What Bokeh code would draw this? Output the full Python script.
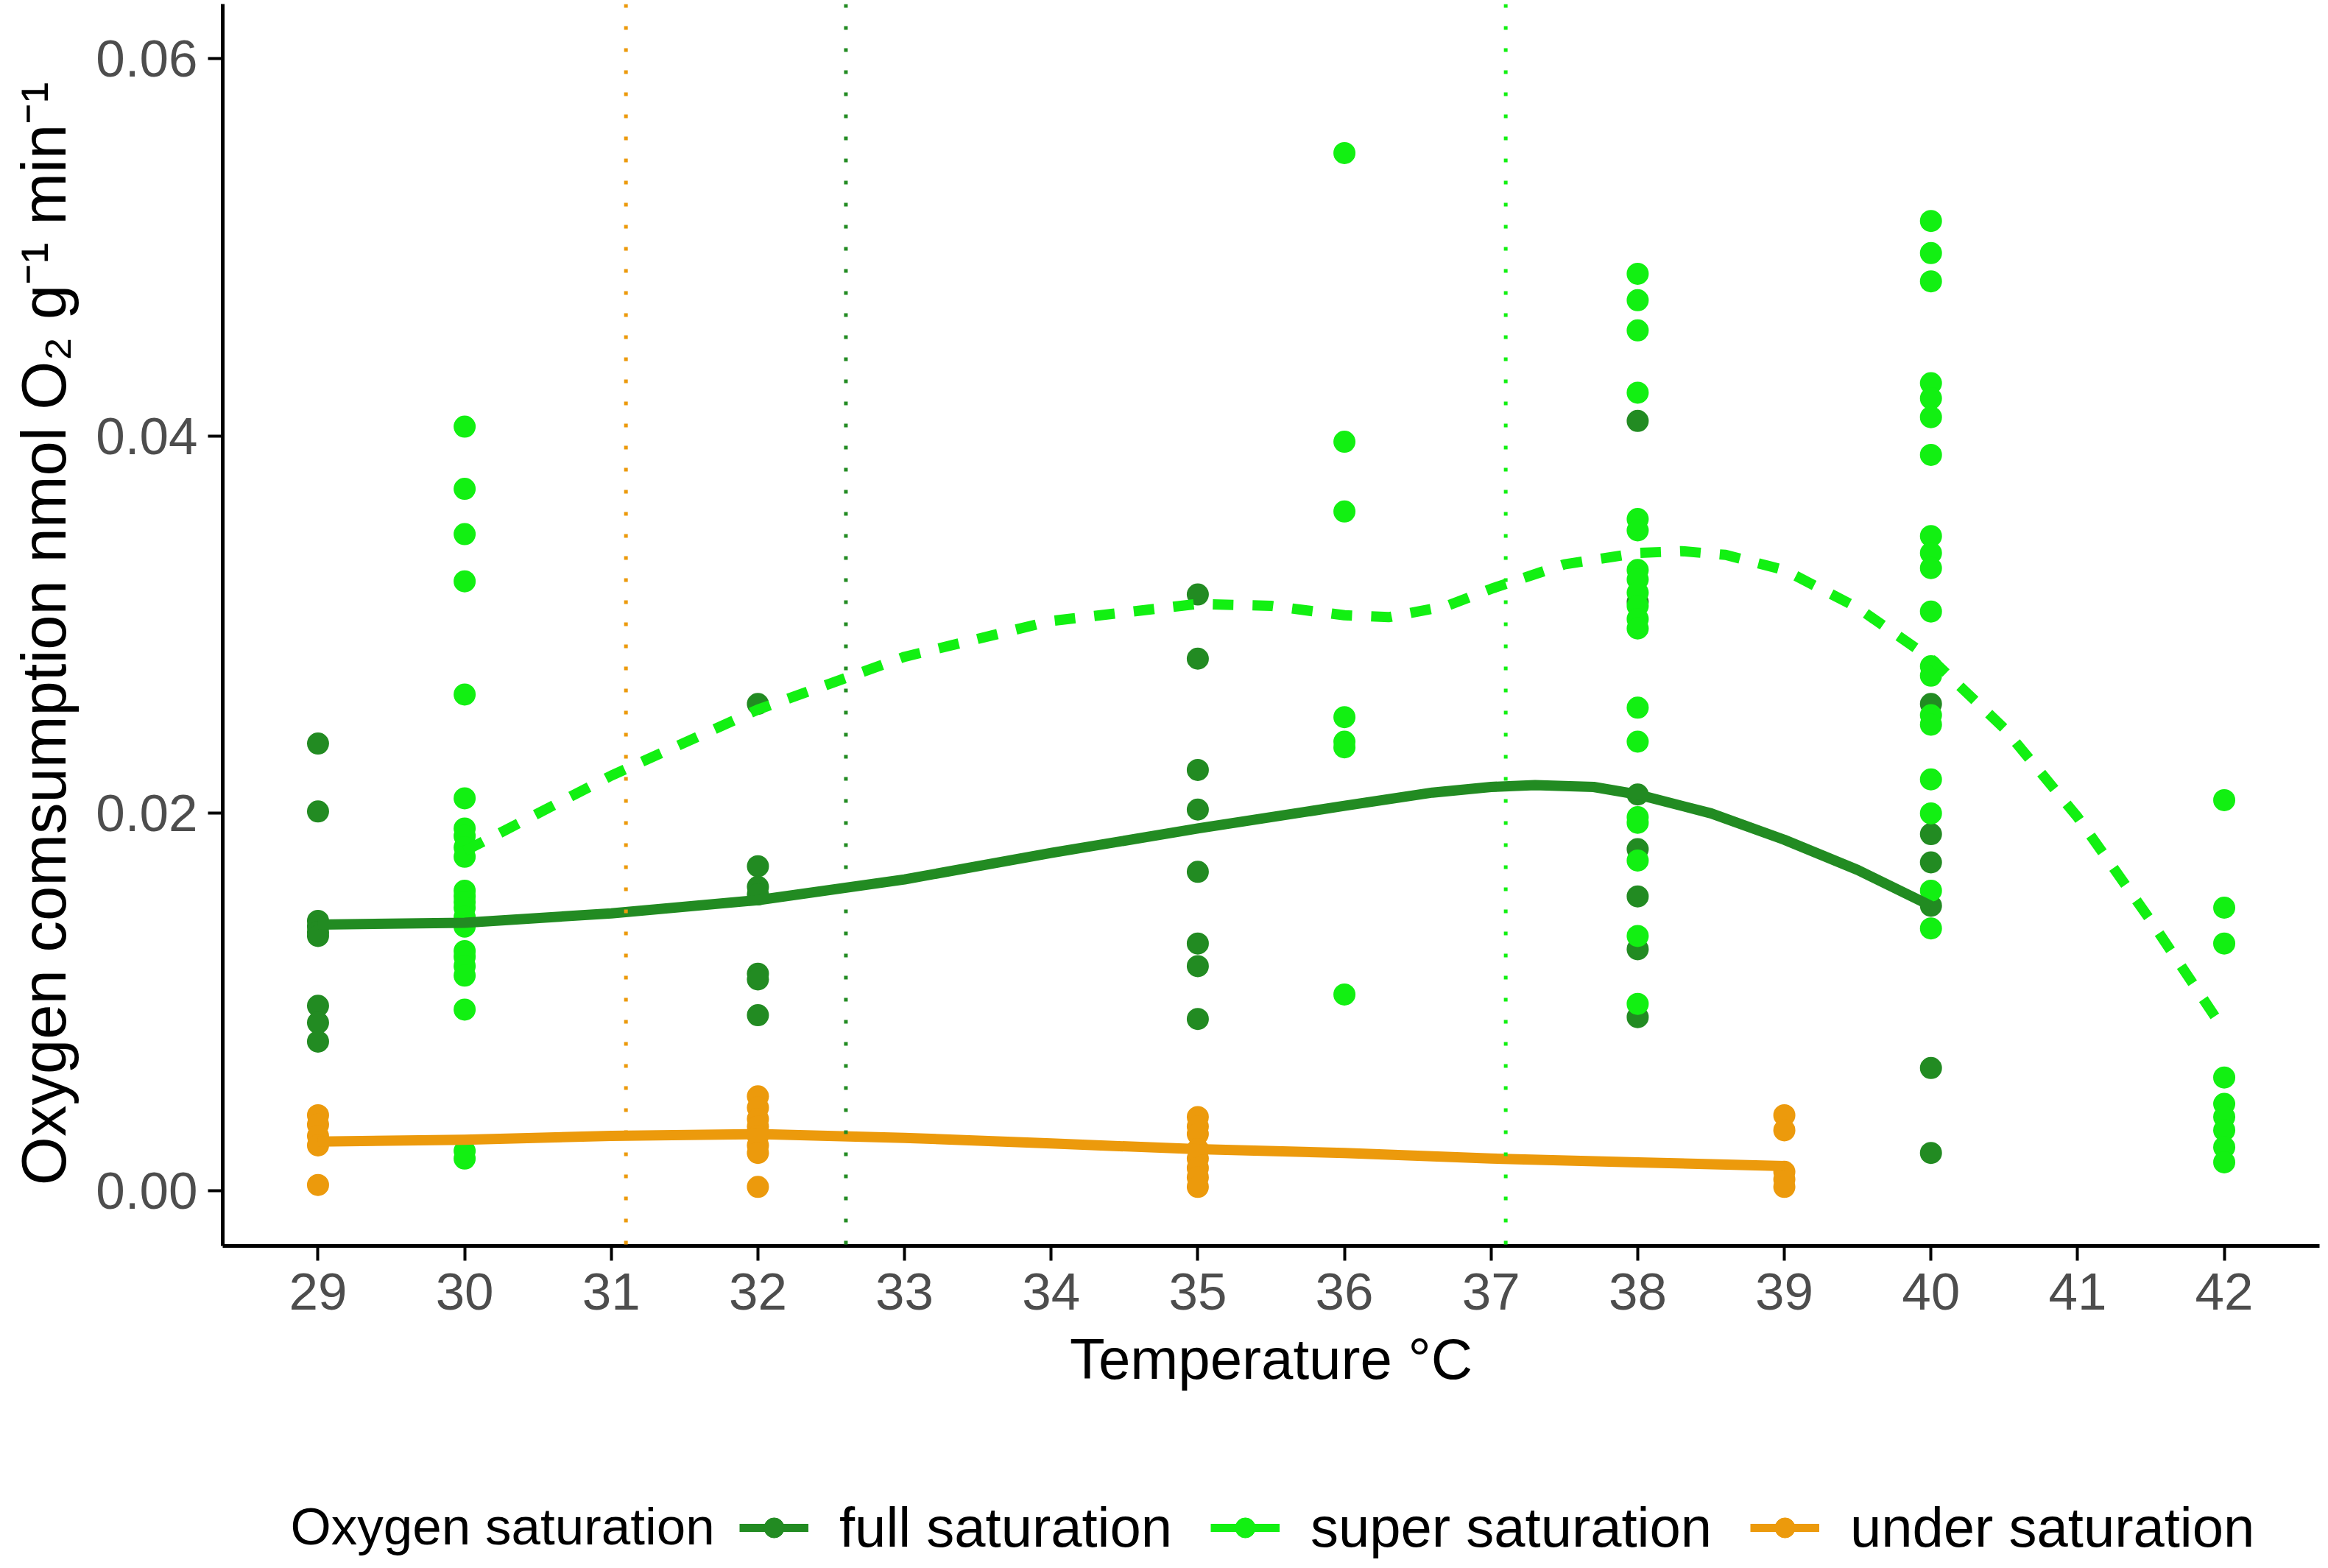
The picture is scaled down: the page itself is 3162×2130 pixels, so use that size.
from bokeh.plotting import figure
from bokeh.layouts import column
from bokeh.models import Span, Legend, LegendItem, Label, FixedTicker, Range1d, NumeralTickFormatter
from bokeh.embed import file_html
from bokeh.resources import INLINE

# ---------------- data ----------------
x_ticks = [29, 30, 31, 32, 33, 34, 35, 36, 37, 38, 39, 40, 41, 42]
y_ticks = [0.0, 0.02, 0.04, 0.06]

legend_title = "Oxygen saturation"
group_names = ["full saturation", "super saturation", "under saturation"]

# full saturation measurements
full_temps = [29, 32, 35, 38, 40]
full_values = [
    [0.0237, 0.0201, 0.0143, 0.0140, 0.0137, 0.0135, 0.0098, 0.0089, 0.0079],
    [0.0258, 0.0172, 0.0161, 0.0157, 0.0115, 0.0112, 0.0093],
    [0.0316, 0.0282, 0.0223, 0.0202, 0.0169, 0.0131, 0.0119, 0.0091],
    [0.0408, 0.0312, 0.0210, 0.0181, 0.0156, 0.0128, 0.0092],
    [0.0258, 0.0189, 0.0174, 0.0151, 0.0065, 0.0020],
]

# super saturation measurements
super_temps = [30, 36, 38, 40, 42]
super_values = [
    [0.0405, 0.0372, 0.0348, 0.0323, 0.0263, 0.0208, 0.0192, 0.0188, 0.0182, 0.0177,
     0.0159, 0.0156, 0.0153, 0.0150, 0.0145, 0.0140, 0.0127, 0.0124, 0.0119, 0.0114,
     0.0096, 0.0021, 0.0017],
    [0.0550, 0.0397, 0.0360, 0.0251, 0.0238, 0.0235, 0.0104],
    [0.0486, 0.0472, 0.0456, 0.0423, 0.0356, 0.0350, 0.0329, 0.0324, 0.0317, 0.0310,
     0.0303, 0.0298, 0.0256, 0.0238, 0.0198, 0.0195, 0.0175, 0.0135, 0.0099],
    [0.0514, 0.0497, 0.0482, 0.0428, 0.0420, 0.0410, 0.0390, 0.0347, 0.0338, 0.0330,
     0.0307, 0.0278, 0.0273, 0.0252, 0.0247, 0.0218, 0.0200, 0.0159, 0.0139],
    [0.0207, 0.0150, 0.0131, 0.0060, 0.0046, 0.0039, 0.0032, 0.0023, 0.0015],
]

# under saturation measurements
under_temps = [29, 32, 35, 39]
under_values = [
    [0.0040, 0.0035, 0.0029, 0.0024, 0.0003],
    [0.0050, 0.0044, 0.0038, 0.0034, 0.0029, 0.0024, 0.0020, 0.0002],
    [0.0039, 0.0034, 0.0030, 0.0022, 0.0017, 0.0012, 0.0007, 0.0002],
    [0.0040, 0.0032, 0.0010, 0.0006, 0.0002],
]

# smoothed fits
full_fit_x = [29, 30, 31, 32, 33, 34, 35, 36, 36.6, 37, 37.3, 37.7, 38, 38.5, 39, 39.5, 40]
full_fit_y = [0.0141, 0.0142, 0.0147, 0.0154, 0.0165, 0.0179, 0.0192, 0.0204, 0.0211,
              0.0214, 0.0215, 0.0214, 0.0210, 0.0200, 0.0186, 0.0170, 0.0151]

super_fit_x = [30, 31, 32, 33, 34, 35, 35.5, 36, 36.3, 36.7, 37, 37.5, 38, 38.3, 38.6,
               39, 39.5, 40, 40.5, 41, 41.5, 42]
super_fit_y = [0.0180, 0.0220, 0.0255, 0.0283, 0.0302, 0.0311, 0.0310, 0.0305, 0.0304,
               0.0310, 0.0319, 0.0332, 0.0338, 0.0339, 0.0337, 0.0329, 0.0309, 0.0282,
               0.0245, 0.0198, 0.0143, 0.0085]

under_fit_x = [29, 30, 31, 32, 33, 34, 35, 36, 37, 38, 39]
under_fit_y = [0.0026, 0.0027, 0.0029, 0.0030, 0.0028, 0.0025, 0.0022, 0.0020, 0.0017,
               0.0015, 0.0013]

# threshold temperatures (vertical dotted lines): under, full, super
threshold_temps = [31.1, 32.6, 37.1]

# ---------------- styling ----------------
FULL = "#228B22"
SUPER = "#12F012"
UNDER = "#EC9A0C"
FONT = "Liberation Sans"
COLORS = [FULL, SUPER, UNDER]


def flatten(temps, values):
    xs, ys = [], []
    for t, vals in zip(temps, values):
        xs.extend([t] * len(vals))
        ys.extend(vals)
    return xs, ys


p = figure(width=3154, height=1930,
           x_range=Range1d(28.35, 42.65), y_range=Range1d(-0.00293, 0.0629),
           output_backend="svg", toolbar_location=None,
           min_border_left=302, min_border_right=4, min_border_top=5,
           min_border_bottom=238)
p.outline_line_color = None
p.xgrid.visible = False
p.ygrid.visible = False
p.background_fill_color = "white"
p.border_fill_color = "white"

# points
for temps, values, col in [(full_temps, full_values, FULL),
                           (super_temps, super_values, SUPER),
                           (under_temps, under_values, UNDER)]:
    xs, ys = flatten(temps, values)
    p.scatter(xs, ys, size=30, fill_color=col, line_color=col, line_width=0)

# threshold lines
for t, col in zip(threshold_temps, [UNDER, FULL, SUPER]):
    p.add_layout(Span(location=t, dimension="height", line_color=col,
                      line_width=5, line_dash="5 25"))

# smooth lines
p.line(full_fit_x, full_fit_y, line_color=FULL, line_width=14, line_join="round")
p.line(super_fit_x, super_fit_y, line_color=SUPER, line_width=14, line_dash="28 26",
       line_join="round")
p.line(under_fit_x, under_fit_y, line_color=UNDER, line_width=14, line_join="round")

# axes
for ax in (p.xaxis[0], p.yaxis[0]):
    ax.axis_line_width = 5
    ax.axis_line_color = "black"
    ax.major_tick_line_width = 4
    ax.major_tick_line_color = "black"
    ax.major_tick_out = 20
    ax.major_tick_in = 0
    ax.minor_tick_line_color = None
    ax.major_label_text_font = FONT
    ax.major_label_text_font_size = "71px"
    ax.major_label_text_color = "#4D4D4D"
    ax.axis_label_text_font = FONT
    ax.axis_label_text_font_style = "normal"
    ax.axis_label_text_color = "black"

p.xaxis.ticker = FixedTicker(ticks=x_ticks)
p.yaxis.ticker = FixedTicker(ticks=y_ticks)
p.yaxis.formatter = NumeralTickFormatter(format="0.00")
p.xaxis.axis_label = "Temperature °C"
p.yaxis.axis_label = "Oxygen comsumption nmol  O\u2082 g\u207b\u00b9 min\u207b\u00b9"
p.xaxis.axis_label_text_font_size = "78px"
p.yaxis.axis_label_text_font_size = "85px"
p.xaxis.major_label_standoff = 17
p.xaxis.axis_label_standoff = 20
p.yaxis.major_label_standoff = 14
p.yaxis.axis_label_standoff = 20

# ---------------- legend strip ----------------
# (its frame is aligned with the main plot's frame by the column layout)
q = figure(width=3154, height=190, x_range=Range1d(0, 3154), y_range=Range1d(0, 190),
           output_backend="svg", toolbar_location=None,
           x_axis_type=None, y_axis_type=None,
           min_border_left=0, min_border_right=0, min_border_top=0, min_border_bottom=0)
q.outline_line_color = None
q.xgrid.visible = False
q.ygrid.visible = False

# hidden copies of the series, used only to draw the legend keys
items = []
for name, col, fx, fy in zip(group_names, COLORS,
                             [full_fit_x, super_fit_x, under_fit_x],
                             [full_fit_y, super_fit_y, under_fit_y]):
    lr = q.line(fx, fy, line_color=col, line_width=11, visible=False)
    sr = q.scatter(fx, fy, size=30, fill_color=col, line_color=col, visible=False)
    items.append(LegendItem(label=name, renderers=[lr, sr]))

legend = Legend(items=items, orientation="horizontal", location=(702, 2),
                label_text_font=FONT, label_text_font_size="76px",
                label_text_color="black", label_standoff=42, spacing=52,
                glyph_width=94, glyph_height=68, label_height=68,
                padding=0, margin=0, border_line_color=None,
                background_fill_alpha=0, click_policy="none")
q.add_layout(legend, "center")

q.add_layout(Label(x=92, y=47, x_units="screen", y_units="screen",
                   text=legend_title, text_font=FONT, text_font_size="71px",
                   text_baseline="middle", text_align="left", text_color="black"))

open("out.html", "w").write(file_html(column(p, q, spacing=0), INLINE))
